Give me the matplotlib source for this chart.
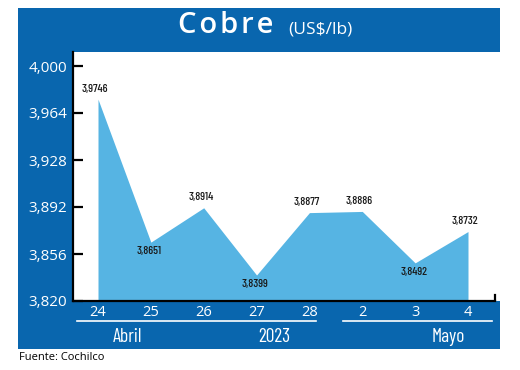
import matplotlib.pyplot as plt
from matplotlib.patches import Rectangle
from matplotlib.lines import Line2D

dias = ["24", "25", "26", "27", "28", "2", "3", "4"]
precios = [3.9746, 3.8651, 3.8914, 3.8399, 3.8877, 3.8886, 3.8492, 3.8732]
etiquetas = ["3,9746", "3,8651", "3,8914", "3,8399", "3,8877", "3,8886", "3,8492", "3,8732"]
arriba = [True, False, True, False, True, True, False, True]
y_ticks = [3.820, 3.856, 3.892, 3.928, 3.964, 4.000]
y_labels = ["3,820", "3,856", "3,892", "3,928", "3,964", "4,000"]
meses = ["Abril", "2023", "Mayo"]

AZUL = "#0966ae"
CELESTE = "#56b4e3"
W, H = 520, 370
CONDENSADA = ["Barlow Condensed", "DejaVu Sans"]


def fx(x):
    return x / W


def fy(y):
    return 1 - y / H


fig = plt.figure(figsize=(5.2, 3.7), dpi=100)
fig.patch.set_facecolor("white")

# marco azul
fig.add_artist(Rectangle((fx(18), fy(349)), fx(500) - fx(18), fy(8) - fy(349),
                         transform=fig.transFigure, facecolor=AZUL, edgecolor="none", zorder=0))

# area del grafico: 3,820 en y=301 px, 4,000 en y=66 px
px_per_val = (301 - 66) / 0.18
ytop = 4.0 + (66 - 52) / px_per_val
ax = fig.add_axes([fx(72.5), fy(301), fx(500) - fx(72.5), fy(52) - fy(301)])
ax.set_facecolor("white")

x = list(range(len(dias)))
px_per_x = (468 - 98) / 7
ax.set_xlim(-(98 - 72.5) / px_per_x, 7 + (500 - 468) / px_per_x)
ax.set_ylim(3.820, ytop)

ax.fill_between(x, precios, 3.820, color=CELESTE, linewidth=0, zorder=1)

for xi, v, lab, up in zip(x, precios, etiquetas, arriba):
    if up:
        ax.annotate(lab, (xi, v), xytext=(-2, 4), textcoords="offset points",
                    ha="center", va="bottom", fontsize=8.5, fontweight="medium",
                    family=CONDENSADA, color="#1a1a1a")
    else:
        ax.annotate(lab, (xi, v), xytext=(-1, -3), textcoords="offset points",
                    ha="center", va="top", fontsize=8.5, fontweight="medium",
                    family=CONDENSADA, color="#1a1a1a")

for s in ["top", "right"]:
    ax.spines[s].set_visible(False)
ax.spines["left"].set_linewidth(1.6)
ax.spines["bottom"].set_linewidth(1.6)
x_end = 7 + (495 - 468) / px_per_x
ax.spines["bottom"].set_bounds(ax.get_xlim()[0], x_end)
ax.axvline(x_end, ymax=0.025, color="black", lw=1.6)

ax.set_yticks(y_ticks, y_labels)
ax.tick_params(axis="y", direction="in", length=7, width=1.6, colors="black",
               labelcolor="white", labelsize=11, pad=4)
for t in ax.get_yticklabels():
    t.set_family("Open Sans")

ax.set_xticks(x, dias)
ax.tick_params(axis="x", length=0, labelcolor="white", labelsize=10.5, pad=3)
for t in ax.get_xticklabels():
    t.set_family("Open Sans")

# fila de meses
fig.add_artist(Line2D([fx(77), fx(316)], [fy(321), fy(321)], color="white", lw=1.2))
fig.add_artist(Line2D([fx(343), fx(492)], [fy(321), fy(321)], color="white", lw=1.2))
for m, xm in zip(meses, [127, 274, 448]):
    fig.text(fx(xm), fy(337), m, color="white", fontsize=14, ha="center", va="center",
             family=CONDENSADA)

# titulo
fig.text(fx(226), fy(33), "C\u200ao\u200ab\u200ar\u200ae", color="white", fontsize=21,
         fontweight="semibold", family="Open Sans", ha="center", va="baseline")
fig.text(fx(288), fy(33), "(US$/lb)", color="white", fontsize=12.5,
         family="Open Sans", ha="left", va="baseline")

fig.text(fx(19), fy(358), "Fuente: Cochilco", color="black", fontsize=8,
         family="Open Sans", ha="left", va="center")

fig.savefig("out.png", dpi=100)
